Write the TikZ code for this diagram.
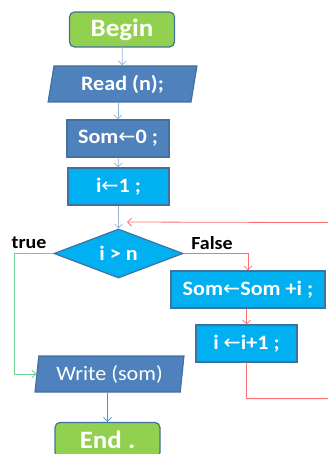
\documentclass[tikz,border=0pt]{standalone}
\usepackage{fontspec}
\setmainfont{Carlito}[FakeStretch=1.08]
\newfontfamily\arrowfont{DejaVu Sans}
\newcommand{\assign}{{\arrowfont\mdseries ←}}
\usetikzlibrary{shapes.geometric,arrows.meta}
\definecolor{boxgreen}{HTML}{92D050}
\definecolor{boxblue}{HTML}{4F81BD}
\definecolor{boxcyan}{HTML}{00B0F0}
\definecolor{edgeblue}{HTML}{41719C}
\definecolor{flowblue}{HTML}{95B3D7}
\definecolor{outblue}{HTML}{4A8ED6}
\definecolor{nored}{HTML}{FF6F6F}
\definecolor{yesgreen}{HTML}{70D090}
\begin{document}
\begin{tikzpicture}[x=1pt,y=-1pt,
    box/.style={draw=edgeblue,line width=1.2pt,text=white,inner sep=0pt,
        font=\bfseries\fontsize{20.5}{23}\selectfont,minimum height=37pt},
    term/.style={box,fill=boxgreen,rounded corners=5pt,minimum width=105pt,
        minimum height=35pt,font=\bfseries\fontsize{25}{28}\selectfont},
    io/.style={box,fill=boxblue,trapezium,trapezium stretches=true,
        trapezium left angle=79,trapezium right angle=101,
        minimum width=149pt,minimum height=36pt},
    proc/.style={box,fill=boxblue,minimum width=102pt},
    cyanbox/.style={box,fill=boxcyan},
    test/.style={box,fill=boxcyan,diamond,aspect=2.6,
        minimum width=129pt,minimum height=49pt},
    tag/.style={font=\bfseries\fontsize{18.5}{21}\selectfont,inner sep=0pt},
    flow/.style={draw=flowblue,line width=0.8pt,-{Straight Barb[length=4pt,width=8pt]}},
    outflow/.style={flow,draw=outblue},
    nobranch/.style={flow,draw=nored},
    yesbranch/.style={flow,draw=yesgreen}]
    \useasboundingbox (0,0) rectangle (327,454);
    \node[term] (begin) at (122,29.5) {Begin};
    \node[io] (read) at (122.5,84) {Read (n);};
    \node[proc] (som) at (118,138.5) {Som\assign0 ;};
    \node[cyanbox,minimum width=101pt] (init) at (118.5,186.5) {i\assign1 ;};
    \node[test] (cond) at (118.5,253.5) {i > n};
    \node[cyanbox,minimum width=154pt] (acc) at (248,289.5) {Som\assign Som +i ;};
    \node[cyanbox,minimum width=101pt] (incr) at (246.5,343.5) {i \assign i+1 ;};
    \node[io,font=\fontsize{20.5}{23}\selectfont,trapezium left angle=81,
        trapezium right angle=99] (write) at (109.5,374) {Write (som)};
    \node[term] (end) at (107.5,440) {End .};
    \node[tag] (truelbl) at (29,243) {true};
    \node[tag] (falselbl) at (212,243) {False};
    \coordinate (back) at (127,222);
    \draw[flow] (begin) -- (read);
    \draw[flow] (read.south -| som) -- (som);
    \draw[flow] (som) -- (init);
    \draw[flow] (init) -- (cond);
    \draw[nobranch] (cond) -| (acc);
    \draw[nobranch] (acc.south -| incr) -- (incr);
    \draw[nobranch] (incr.south) -- ++(0,36) -| ++(90,-176) -- (back);
    \draw[yesbranch] (cond.west) -- ++(-39.5,0) |- (write.west);
    \draw[outflow] (write.south -| end) -- (end);
\end{tikzpicture}
\end{document}
